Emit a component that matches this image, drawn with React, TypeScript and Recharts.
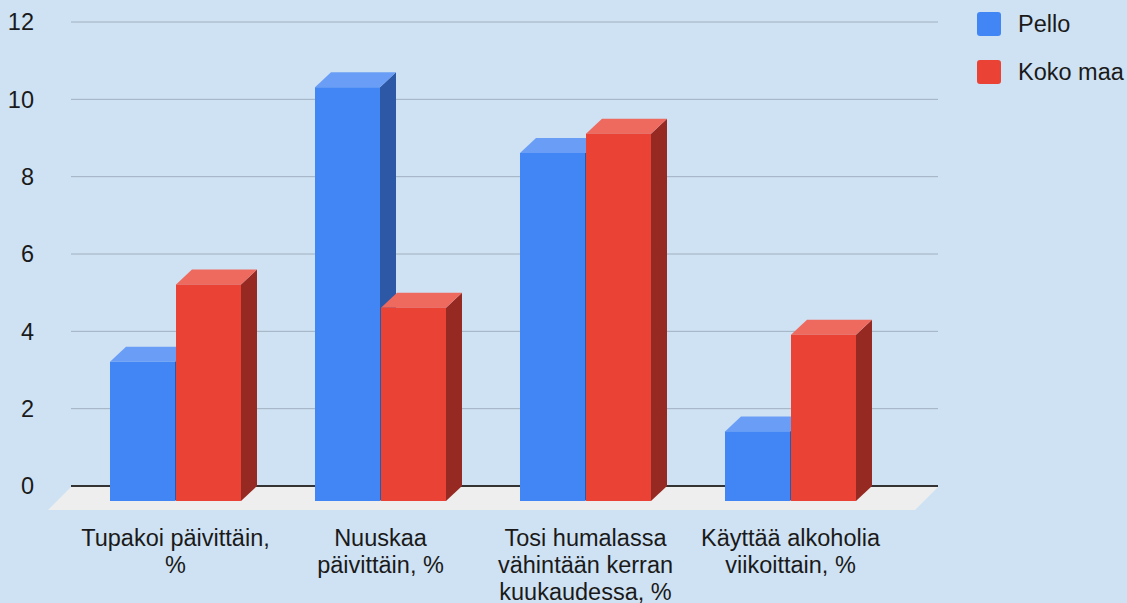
import { BarChart, Bar, XAxis, YAxis, CartesianGrid, Legend, ReferenceLine } from 'recharts';

const categories = [
  'Tupakoi päivittäin,\n%',
  'Nuuskaa\npäivittäin, %',
  'Tosi humalassa\nvähintään kerran\nkuukaudessa, %',
  'Käyttää alkoholia\nviikoittain, %',
];
const seriesNames = ['Pello', 'Koko maa'];
const pello = [3.6, 10.7, 9.0, 1.8];
const kokoMaa = [5.6, 5.0, 9.5, 4.3];
const yTicks = [0, 2, 4, 6, 8, 10, 12];

const data = categories.map((name, i) => ({ name, pello: pello[i], kokoMaa: kokoMaa[i] }));

const FONT = '"Liberation Sans", Arial, sans-serif';
const FS = 23.5;
const DX = 16; // bar depth
const DY = 15;
const FLOOR = 23;

// front / top / side shades
const BLUE = ['#4285f4', '#6a9ef6', '#2c58a5'];
const RED = ['#ea4335', '#ee6a5e', '#962a22'];

function box3d([front, top, side]: string[]) {
  return (p: any) => {
    const { x, y, width: w, height: h } = p;
    if (w == null || h == null) return <g />;
    const fx = x - DX;
    const fy = y + DY;
    return (
      <g>
        <polygon points={`${x + w - DX},${fy} ${x + w},${y} ${x + w},${y + h} ${x + w - DX},${fy + h}`} fill={side} />
        <polygon points={`${fx},${fy} ${x},${y} ${x + w},${y} ${x + w - DX},${fy}`} fill={top} />
        <rect x={fx} y={fy} width={w} height={h} fill={front} />
      </g>
    );
  };
}

// floor slab under the zero line
function Floor(p: any) {
  const l = Math.min(p.x1, p.x2);
  const r = Math.max(p.x1, p.x2);
  const y = p.y1;
  return (
    <g>
      <polygon
        points={`${l},${y + 1} ${r},${y + 1} ${r - FLOOR},${y + FLOOR + 1} ${l - FLOOR},${y + FLOOR + 1}`}
        fill="#eeeeee"
      />
      <line x1={l} y1={y} x2={r} y2={y} stroke="#333" strokeWidth={2} />
    </g>
  );
}

function XTick({ x, y, payload }: any) {
  const lines = String(payload.value).split('\n');
  return (
    <text x={x - DX} y={y} textAnchor="middle" fill="#1a1a1a" fontSize={FS} fontFamily={FONT}>
      {lines.map((l, i) => (
        <tspan key={i} x={x - DX} dy={i === 0 ? 60 : 27}>{l}</tspan>
      ))}
    </text>
  );
}

function LegendBox({ payload }: any) {
  const items = [...(payload || [])].sort(
    (a: any, b: any) => seriesNames.indexOf(a.value) - seriesNames.indexOf(b.value),
  );
  return (
    <div style={{ fontFamily: FONT, fontSize: FS, color: '#1a1a1a' }}>
      {items.map((e: any) => (
        <div key={e.value} style={{ display: 'flex', alignItems: 'center', height: 48 }}>
          <span style={{ width: 24, height: 24, background: e.color, borderRadius: 3, marginRight: 17 }} />
          <span>{e.value}</span>
        </div>
      ))}
    </div>
  );
}

export default function App() {
  return (
    <div style={{ position: 'absolute', left: 0, top: 0, width: 1127, height: 603, background: '#cfe2f3', fontFamily: FONT }}>
      <BarChart
        width={1127}
        height={603}
        data={data}
        margin={{ top: 22, right: 189, bottom: 0, left: 0 }}
        barCategoryGap={37}
        barGap={1}
      >
        <CartesianGrid vertical={false} stroke="#a0b0c0" />
        <XAxis
          dataKey="name"
          height={117}
          padding={{ left: 18, right: 29 }}
          axisLine={false}
          tickLine={false}
          tickSize={0}
          tickMargin={0}
          interval={0}
          tick={<XTick />}
        />
        <YAxis
          width={71}
          domain={[0, 12]}
          ticks={yTicks}
          axisLine={false}
          tickLine={false}
          tickSize={0}
          tickMargin={37}
          tick={{ fontSize: FS, fill: '#1a1a1a', fontFamily: FONT }}
        />
        <ReferenceLine y={0} shape={Floor} zIndex={50} />
        <Legend
          layout="horizontal"
          verticalAlign="middle"
          content={<LegendBox />}
          wrapperStyle={{ left: 977, top: 0, width: 150 }}
        />
        <Bar dataKey="pello" name={seriesNames[0]} fill={BLUE[0]} shape={box3d(BLUE)} isAnimationActive={false} />
        <Bar dataKey="kokoMaa" name={seriesNames[1]} fill={RED[0]} shape={box3d(RED)} isAnimationActive={false} />
      </BarChart>
    </div>
  );
}
